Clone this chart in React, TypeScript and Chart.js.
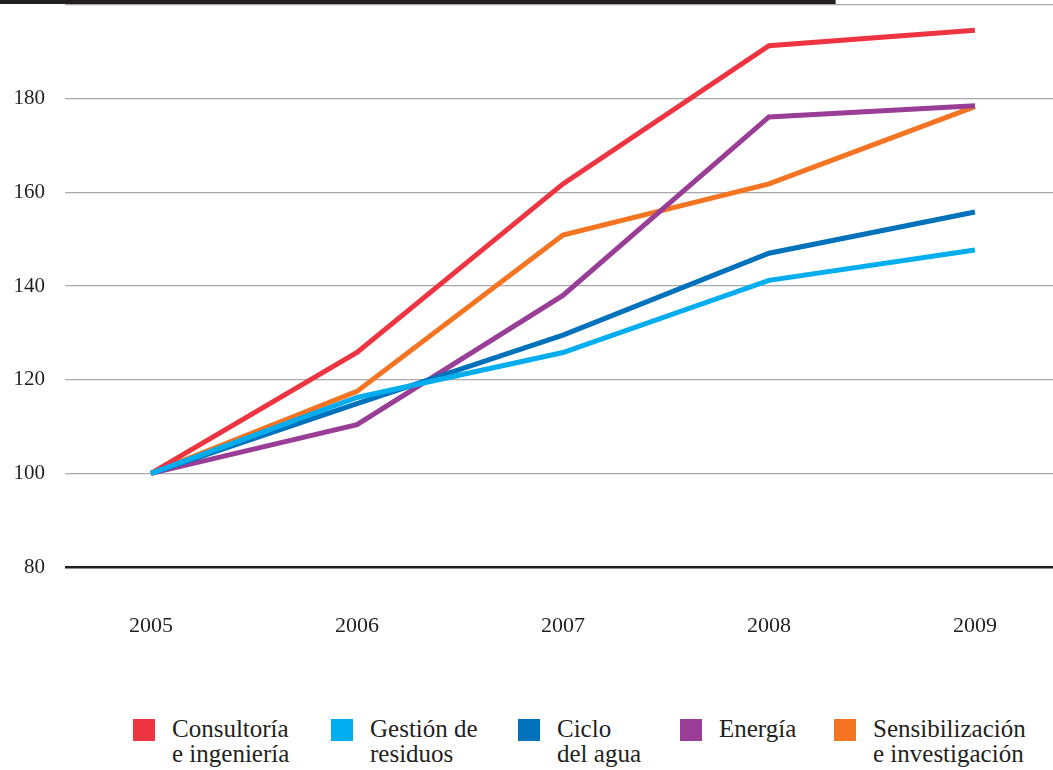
import React, { useEffect, useRef } from "react";
import { Chart, registerables } from "chart.js";

Chart.register(...registerables);

const years = [2005, 2006, 2007, 2008, 2009];
const seriesNames = [
  ["Consultoría", "e ingeniería"],
  ["Gestión de", "residuos"],
  ["Ciclo", "del agua"],
  ["Energía"],
  ["Sensibilización", "e investigación"],
];
const consultoria = [100, 125.8, 161.8, 191.3, 194.6];
const gestion = [100, 116.2, 125.8, 141.2, 147.7];
const ciclo = [100, 114.9, 129.5, 147.0, 155.8];
const energia = [100, 110.4, 138.0, 176.1, 178.5];
const sensibilizacion = [100, 117.5, 150.9, 161.8, 178.3];
const yTicks = [80, 100, 120, 140, 160, 180, 200];

const colors = ["#EE3441", "#00AEEF", "#0072BC", "#9A3D96", "#F47422"];
const allSeries = [consultoria, gestion, ciclo, energia, sensibilizacion];
const legendLeft = [133, 331, 518, 680, 834];

const FONT = "'Liberation Serif', 'DejaVu Serif', serif";
const INK = "#231F20";

export default function App() {
  const ref = useRef<HTMLCanvasElement | null>(null);

  useEffect(() => {
    if (!ref.current) return;
    const topBar = {
      id: "topBar",
      afterDraw(chart: any) {
        const { ctx, chartArea } = chart;
        ctx.save();
        ctx.fillStyle = INK;
        ctx.fillRect(0, 0, chartArea.left + (chartArea.right - chartArea.left) * 0.78, chartArea.top - 1);
        ctx.restore();
      },
    };
    const chart = new Chart(ref.current, {
      type: "line",
      data: {
        datasets: allSeries.map((s, i) => ({
          label: seriesNames[i].join(" "),
          data: s.map((v, j) => ({ x: years[j], y: v })),
          borderColor: colors[i],
          backgroundColor: colors[i],
          borderWidth: 5,
          pointRadius: 0,
          tension: 0,
          borderJoinStyle: "miter" as const,
          borderCapStyle: "butt" as const,
          order: i === 1 ? -1 : 0,
        })),
      },
      options: {
        animation: false,
        responsive: false,
        maintainAspectRatio: false,
        layout: { padding: { top: 5, right: 0, left: 0, bottom: 0 } },
        plugins: { legend: { display: false }, tooltip: { enabled: false } },
        scales: {
          x: {
            type: "linear",
            min: 2004.5825,
            max: 2009.379,
            afterBuildTicks: (scale: any) => {
              scale.ticks = years.map((y) => ({ value: y }));
            },
            afterFit: (scale: any) => {
              scale.height = 73;
              scale.paddingLeft = 0;
              scale.paddingRight = 0;
            },
            grid: { display: false, drawTicks: false },
            border: { display: false },
            ticks: {
              padding: 46,
              color: INK,
              font: { family: FONT, size: 22 },
              callback: (v: any) => String(v),
              maxRotation: 0,
            },
          },
          y: {
            min: 80,
            max: 200,
            afterBuildTicks: (scale: any) => {
              scale.ticks = yTicks.map((v) => ({ value: v }));
            },
            afterFit: (scale: any) => {
              scale.width = 65;
              scale.paddingTop = 0;
              scale.paddingBottom = 0;
            },
            border: { display: false },
            grid: {
              drawTicks: false,
              color: (c: any) => (c.tick && c.tick.value === 80 ? INK : "#A7A9AC"),
              lineWidth: (c: any) => (c.tick && c.tick.value === 80 ? 2.5 : 1.2),
            },
            ticks: {
              padding: 20,
              color: INK,
              font: { family: FONT, size: 21 },
              callback: (v: any) => (v === 200 ? "" : String(v)),
            },
          },
        },
      },
      plugins: [topBar],
    });
    return () => chart.destroy();
  }, []);

  return (
    <div style={{ position: "absolute", left: 0, top: 0, width: 1053, height: 770, background: "#fff", overflow: "hidden" }}>
      <canvas ref={ref} width={1053} height={640} style={{ display: "block" }} />
      {seriesNames.map((lines, i) => (
        <div
          key={i}
          style={{
            position: "absolute",
            left: legendLeft[i],
            top: 716,
            display: "flex",
            alignItems: "flex-start",
            fontFamily: FONT,
            fontSize: 25,
            lineHeight: "25px",
            color: INK,
          }}
        >
          <div style={{ width: 22, height: 22, background: colors[i], marginTop: 3, marginRight: 17, flex: "none" }} />
          <div style={{ whiteSpace: "nowrap" }}>
            {lines.map((l, k) => (
              <div key={k}>{l}</div>
            ))}
          </div>
        </div>
      ))}
    </div>
  );
}
